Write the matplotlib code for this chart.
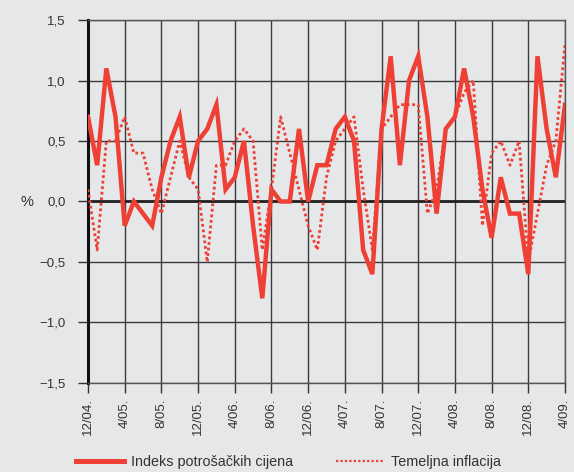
import matplotlib
matplotlib.use("Agg")
import matplotlib.pyplot as plt
from matplotlib.lines import Line2D

plt.rcParams['font.family'] = ['Liberation Sans', 'DejaVu Sans']

# mjesečne stope, 12/04. - 4/09.
tick_labels = ["12/04.", "4/05.", "8/05.", "12/05.", "4/06.", "8/06.", "12/06.",
               "4/07.", "8/07.", "12/07.", "4/08.", "8/08.", "12/08.", "4/09."]

ipc = [0.7, 0.3, 1.1, 0.7, -0.2, 0.0, -0.1, -0.2, 0.2, 0.5, 0.7, 0.2, 0.5, 0.6,
       0.8, 0.1, 0.2, 0.5, -0.2, -0.8, 0.1, 0.0, 0.0, 0.6, 0.0, 0.3, 0.3, 0.6,
       0.7, 0.5, -0.4, -0.6, 0.6, 1.2, 0.3, 1.0, 1.2, 0.7, -0.1, 0.6, 0.7, 1.1,
       0.7, 0.1, -0.3, 0.2, -0.1, -0.1, -0.6, 1.2, 0.6, 0.2, 0.8]

temeljna = [0.1, -0.4, 0.5, 0.5, 0.7, 0.4, 0.4, 0.1, -0.1, 0.2, 0.5, 0.2, 0.1, -0.5,
            0.3, 0.3, 0.5, 0.6, 0.5, -0.4, 0.1, 0.7, 0.4, 0.1, -0.2, -0.4, 0.2, 0.5,
            0.6, 0.7, 0.1, -0.4, 0.6, 0.7, 0.8, 0.8, 0.8, -0.1, 0.1, 0.6, 0.7, 0.9,
            1.0, -0.2, 0.4, 0.5, 0.3, 0.5, -0.5, -0.1, 0.3, 0.5, 1.3]

bg = '#e6e7e9'
red = '#ee4035'
dots = (0, (1, 1))

fig = plt.figure(figsize=(5.74, 4.72), dpi=100, facecolor=bg)
ax = fig.add_axes([0.1533, 0.1886, 0.8310, 0.7690], facecolor=bg)

x = list(range(len(ipc)))
ax.plot(x, temeljna, color=red, lw=2.0, ls=dots, zorder=3)
ax.plot(x, ipc, color=red, lw=3.2, solid_joinstyle='miter', zorder=4)

ax.set_xlim(0, len(ipc) - 1)
ax.set_ylim(-1.5, 1.5)
ax.set_xticks(range(0, len(ipc), 4))
ax.set_xticklabels(tick_labels, rotation=90, fontsize=9.5, color='#333333')
yt = [-1.5, -1.0, -0.5, 0.0, 0.5, 1.0, 1.5]
ax.set_yticks(yt)
ax.set_yticklabels([f"{v:.1f}".replace('.', ',').replace('-', '\u2212') for v in yt],
                   fontsize=9.5, color='#333333')
ax.tick_params(axis='both', length=7, width=1, color='#333333', pad=4)
ax.tick_params(axis='y', pad=9)

ax.grid(True, color='#3a3a3a', lw=1.0)
ax.axhline(0, color='#222222', lw=2, zorder=2)
for s in ['top', 'right', 'bottom']:
    ax.spines[s].set_color('#555555')
    ax.spines[s].set_linewidth(1)
ax.spines['left'].set_color('#111111')
ax.spines['left'].set_linewidth(2.2)

fig.text(0.035, 0.573, '%', fontsize=10.5, color='#333333', va='center')

handles = [Line2D([], [], color=red, lw=3.6),
           Line2D([], [], color=red, lw=1.6, ls=dots)]
fig.legend(handles, ["Indeks potrošačkih cijena", "Temeljna inflacija"],
           loc='center', bbox_to_anchor=(0.503, 0.021), ncol=2, frameon=False,
           fontsize=10.4, handlelength=3.3, columnspacing=3.0, handletextpad=0.5,
           labelcolor='#333333')

fig.savefig('out.png', dpi=100, facecolor=bg)
